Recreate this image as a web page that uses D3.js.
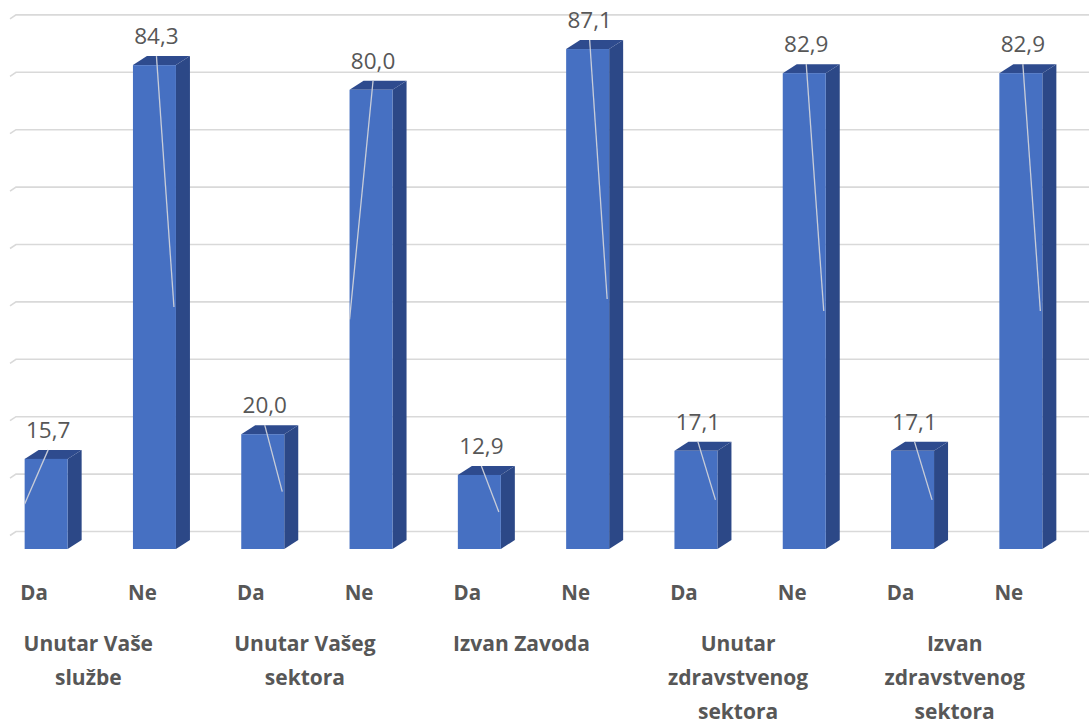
<!DOCTYPE html>
<html lang="hr">

<head>
  <meta charset="UTF-8">
  <title>Chart</title>
  <style>
    html,
    body {
      margin: 0;
      background: #fff;
    }

    svg {
      display: block;
    }
  </style>
</head>

<body>
  <svg id="chart" width="1089" height="722"></svg>
  <script src="https://cdn.jsdelivr.net/npm/d3@7/dist/d3.min.js"></script>
  <script>
    // podaci
    var groupLines = [
      ['Unutar Vaše', 'službe'],
      ['Unutar Vašeg', 'sektora'],
      ['Izvan Zavoda'],
      ['Unutar', 'zdravstvenog', 'sektora'],
      ['Izvan', 'zdravstvenog', 'sektora']
    ]
    var answers = ['Da', 'Ne']
    var daValues = [15.7, 20.0, 12.9, 17.1, 17.1]
    var neValues = [84.3, 80.0, 87.1, 82.9, 82.9]
    var gridTicks = [0, 10, 20, 30, 40, 50, 60, 70, 80, 90]
    // strana na koju ide linija od oznake do stupca
    var leaderSide = ['L', 'R', 'R', 'L', 'R', 'R', 'R', 'R', 'R', 'R']

    var svg = d3.select('#chart')

    var rows = []
    groupLines.forEach((g, i) => {
      rows.push({ group: i, answer: answers[0], value: daValues[i] })
      rows.push({ group: i, answer: answers[1], value: neValues[i] })
    })

    // skale
    var x0 = d3.scaleBand()
      .domain(d3.range(groupLines.length))
      .range([-20, 1063])
    var x1 = d3.scaleBand()
      .domain(answers)
      .range([0, x0.bandwidth()])
    var y = d3.scaleLinear()
      .domain([0, 100])
      .range([549, 549 - 574])

    var barW = 43
    var depthX = 14
    var depthY = -9
    var shift = 12        // pomak stupaca zbog 3D perspektive
    var wallOffset = -17.5 // stražnji zid

    var font = '"Open Sans", "DejaVu Sans", sans-serif'
    var textColor = '#575757'

    // mreža
    svg.append('g')
      .attr('stroke', '#d9d9d9')
      .attr('stroke-width', 1.6)
      .attr('fill', 'none')
      .selectAll('path')
      .data(gridTicks)
      .join('path')
      .attr('d', d => {
        var yy = y(d) + wallOffset
        return `M10,${yy + 4}L16,${yy}L1089,${yy}`
      })

    function cx(d) {
      return x0(d.group) + x1(d.answer) + x1.bandwidth() / 2
    }

    // stupci
    var bars = svg.append('g')
      .selectAll('g')
      .data(rows)
      .join('g')

    bars.append('path')
      .attr('fill', '#2c4887')
      .attr('d', d => {
        var l = cx(d) + shift - barW / 2
        var r = l + barW
        var t = y(d.value)
        var b = y(0)
        return `M${r},${t}L${r + depthX},${t + depthY}L${r + depthX},${b + depthY}L${r},${b}Z`
      })

    bars.append('path')
      .attr('fill', '#2e4b8e')
      .attr('d', d => {
        var l = cx(d) + shift - barW / 2
        var r = l + barW
        var t = y(d.value)
        return `M${l},${t}L${l + depthX},${t + depthY}L${r + depthX},${t + depthY}L${r},${t}Z`
      })

    bars.append('rect')
      .attr('fill', '#4670c2')
      .attr('x', d => cx(d) + shift - barW / 2)
      .attr('y', d => y(d.value))
      .attr('width', barW)
      .attr('height', d => y(0) - y(d.value))

    // linije od oznaka
    bars.append('line')
      .attr('stroke', '#c9cdd8')
      .attr('stroke-width', 1.3)
      .attr('x1', d => cx(d) + shift + 2)
      .attr('y1', d => y(d.value) + depthY)
      .attr('x2', (d, i) => {
        var l = cx(d) + shift - barW / 2
        return leaderSide[i] === 'L' ? l : l + barW - 2
      })
      .attr('y2', d => (y(d.value) + y(0)) / 2)

    // oznake vrijednosti
    bars.append('text')
      .attr('x', d => cx(d) + shift + 2)
      .attr('y', d => y(d.value) + depthY - 12)
      .attr('text-anchor', 'middle')
      .attr('font-family', font)
      .attr('font-size', 22.5)
      .attr('fill', textColor)
      .text(d => d3.format('.1f')(d.value).replace('.', ','))

    // oznake kategorija
    svg.append('g')
      .selectAll('text')
      .data(rows)
      .join('text')
      .attr('x', d => cx(d))
      .attr('y', 600)
      .attr('text-anchor', 'middle')
      .attr('font-family', font)
      .attr('font-weight', 'bold')
      .attr('font-size', 20.5)
      .attr('fill', textColor)
      .text(d => d.answer)

    var groupText = svg.append('g')
      .selectAll('text')
      .data(groupLines)
      .join('text')
      .attr('text-anchor', 'middle')
      .attr('font-family', font)
      .attr('font-weight', 'bold')
      .attr('font-size', 21)
      .attr('fill', textColor)

    groupText.selectAll('tspan')
      .data((d, i) => d.map(t => ({ t: t, g: i })))
      .join('tspan')
      .attr('x', d => x0(d.g) + x0.bandwidth() / 2)
      .attr('y', (d, j) => 651 + j * 34)
      .text(d => d.t)
  </script>
</body>

</html>
